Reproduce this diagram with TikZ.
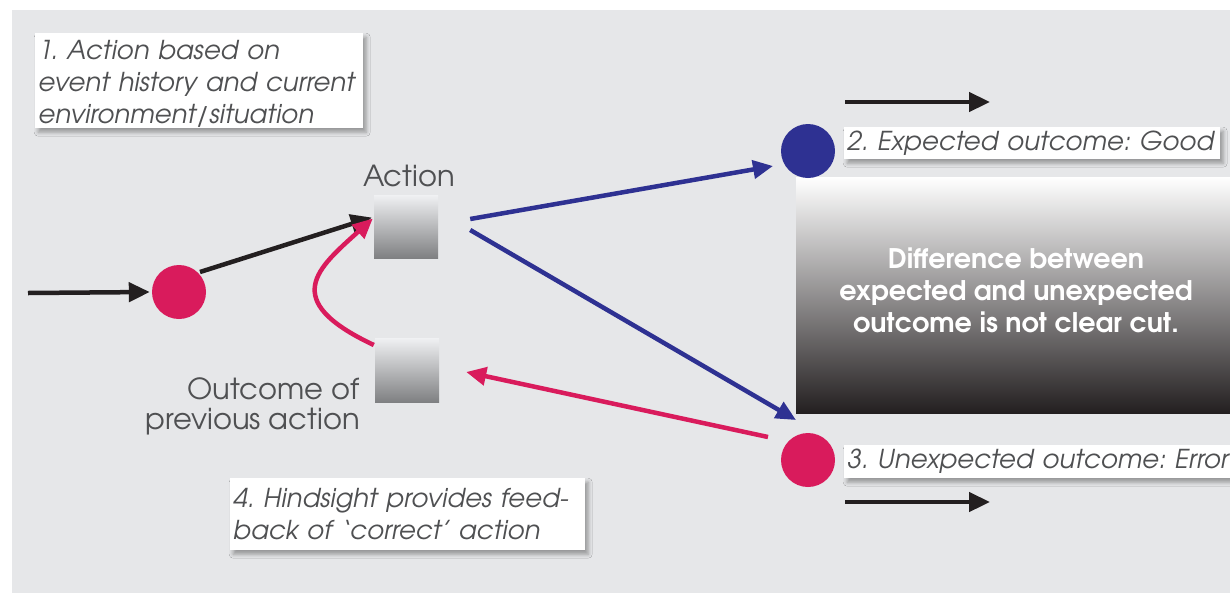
\documentclass[tikz,border=0pt]{standalone}
\usepackage{fontspec}
\setmainfont{TeX Gyre Adventor}
\usetikzlibrary{arrows.meta,shadows.blur,calc}
\definecolor{bg}{HTML}{E6E7E9}
\definecolor{mag}{HTML}{D91B5C}
\definecolor{navy}{HTML}{2E3192}
\definecolor{ink}{HTML}{231F20}
\definecolor{txt}{HTML}{4F5052}
\definecolor{sqtop}{HTML}{F0F1F3}
\definecolor{sqbot}{HTML}{7F8082}
\frenchspacing
\begin{document}
\begin{tikzpicture}[x=1pt,y=-1pt,
  note/.style={fill=white, inner xsep=3pt, inner ysep=0pt, align=left, text=txt,
    font=\fontsize{26}{32}\selectfont\itshape, anchor=north west,
    blur shadow={shadow xshift=3pt, shadow yshift=-4pt, shadow blur radius=4pt, shadow opacity=35}},
  sqbox/.style={minimum width=64pt, minimum height=63pt, inner sep=0pt, top color=sqtop, bottom color=sqbot},
  dot/.style={circle, minimum size=54pt, inner sep=0pt},
  lbl/.style={text=txt, font=\fontsize{29}{30}\selectfont, inner sep=0pt},
  blk/.style={draw=ink, line width=4.5pt, -{Triangle[length=21pt,width=19pt]}},
  bluearr/.style={draw=navy, line width=4.5pt, -{Triangle[length=20pt,width=18pt]}},
  magarr/.style={draw=mag, line width=4.5pt, -{Triangle[length=20pt,width=18pt]}},
  darkbox/.style={top color=white, bottom color=ink, minimum width=440pt, minimum height=236pt, anchor=north west, inner sep=0pt},
  boxtext/.style={text=white, align=center, font=\fontsize{27}{32}\selectfont\bfseries, inner sep=0pt},
]
\clip (0,0) rectangle (1230,592);
\fill[white] (0,0) rectangle (1230,592);
\fill[bg] (12,10) rectangle (1240,600);

% dark shaded box
\node[darkbox] (diff) at (796,177) {};
\node[boxtext] (difftext) at (1016,290) {Difference between\\expected and unexpected\\outcome is not clear cut.};

% nodes
\node[dot, fill=mag] (start) at (179,292) {};
\node[sqbox] (act) at (406,226.5) {};
\node[sqbox, minimum height=64pt] (outc) at (407,370) {};
\node[dot, fill=navy] (good) at (808,151) {};
\node[dot, fill=mag] (err) at (808,460) {};

\node[lbl] (actlbl) at (409,176) {Action};
\node[lbl, align=right, anchor=east] (outlbl) at (360,406) {Outcome of\\previous action};

\node[note, text width=322pt, minimum height=95pt] (n1) at (35,33) {\rule{0pt}{26pt}1. Action based on\\event history and current\\environment/situation};
\node[note, text width=370pt, minimum height=32pt] (n2) at (844,127) {2. Expected outcome: Good};
\node[note, text width=400pt, minimum height=33pt] (n3) at (844,445) {3. Unexpected outcome: Error};
\node[note, text width=349pt, minimum height=72pt] (n4) at (230,478) {4. Hindsight provides feed-\\back of ‘correct’ action};

% free ends
\coordinate (in) at (28,293);
\coordinate (t1) at (845,102);
\coordinate (t2) at (990,102);
\coordinate (b1) at (845,502);
\coordinate (b2) at (990,502);

% connectors
\draw[blk] (in) -- ([xshift=-2pt]start.west);
\draw[blk] ([shift={(21,-20)}]start.center) -- ([shift={(-2,-9)}]act.west);
\draw[blk] (t1) -- (t2);
\draw[blk] (b1) -- (b2);
\draw[bluearr] ([shift={(32,-7.5)}]act.east) -- ([shift={(-35,15)}]good.center);
\draw[bluearr] ([shift={(32,3.5)}]act.east) -- ([shift={(-12,-40)}]err.center);
\draw[magarr] ([shift={(-40,-23)}]err.center) -- ([shift={(27,2)}]outc.east);
\draw[magarr] ([shift={(-1,-25)}]outc.west) .. controls (278,300) and (318,268) .. ([shift={(-1,-8)}]act.west);
\end{tikzpicture}
\end{document}
